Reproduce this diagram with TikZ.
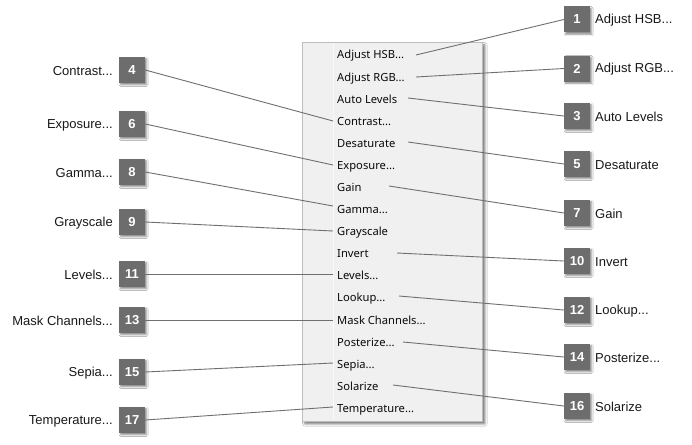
\documentclass[tikz,border=0pt]{standalone}
\usepackage{fontspec}
\setmainfont{Liberation Sans}
\newfontfamily\menufont{Noto Sans}
\usetikzlibrary{shadows.blur}
\definecolor{badgegray}{HTML}{6D6D6D}
\definecolor{menubg}{HTML}{F0F0F0}
\definecolor{menuborder}{HTML}{BDBDBD}
\definecolor{linegray}{HTML}{6F6F6F}
\definecolor{menutext}{HTML}{0A0A0A}
\begin{document}
\begin{tikzpicture}[x=1pt,y=-1pt,
  badge/.style={fill=badgegray, minimum width=26pt, minimum height=26pt, inner sep=0pt,
     text=white, font=\fontsize{13}{13}\selectfont\bfseries,
     blur shadow={shadow xshift=1.6pt, shadow yshift=-1.8pt, shadow blur steps=6, shadow blur radius=1.6pt, shadow opacity=45}},
  item/.style={anchor=base west, inner sep=0pt, text=menutext, font=\menufont\fontsize{11.2}{11.2}\selectfont},
  rlabel/.style={anchor=west, inner sep=0pt, font=\fontsize{13}{13}\selectfont, text=black!90},
  llabel/.style={anchor=east, inner sep=0pt, font=\fontsize{13}{13}\selectfont, text=black!90},
  conn/.style={draw=linegray, line width=0.9pt}]
\useasboundingbox (0,0) rectangle (692,444);
\fill[white] (0,0) rectangle (692,444);
% menu
\node[draw=menuborder, fill=menubg, line width=0.8pt, minimum width=180pt, minimum height=379pt, inner sep=0pt, anchor=north west,
  blur shadow={shadow xshift=2.5pt, shadow yshift=-2.5pt, shadow blur steps=6, shadow blur radius=2.2pt, shadow opacity=55}] (menu) at (302,42) {};
\draw[draw=white!60!menubg, line width=0.8pt] (333,43) -- (333,420);
% menu items
\node[item] (i1) at (337,59) {Adjust HSB...};
\node[item] (i2) at (337,81) {Adjust RGB...};
\node[item] (i3) at (337,103) {Auto Levels};
\node[item] (i4) at (337,125) {Contrast...};
\node[item] (i5) at (337,147) {Desaturate};
\node[item] (i6) at (337,169) {Exposure...};
\node[item] (i7) at (337,191) {Gain};
\node[item] (i8) at (337,213) {Gamma...};
\node[item] (i9) at (337,235) {Grayscale};
\node[item] (i10) at (337,257) {Invert};
\node[item] (i11) at (337,279) {Levels...};
\node[item] (i12) at (337,301) {Lookup...};
\node[item] (i13) at (337,324) {Mask Channels...};
\node[item] (i14) at (337,346) {Posterize...};
\node[item] (i15) at (337,368) {Sepia...};
\node[item] (i16) at (337,390) {Solarize};
\node[item] (i17) at (337,412) {Temperature...};
% right connector start points
\coordinate (c1) at (416,55);
\coordinate (c2) at (416,77);
\coordinate (c3) at (408,98);
\coordinate (c5) at (408,142);
\coordinate (c7) at (389,186);
\coordinate (c10) at (397,253);
\coordinate (c12) at (399,296);
\coordinate (c14) at (403,342);
\coordinate (c16) at (393,385);
% left connector end points
\coordinate (c4) at (333,121);
\coordinate (c6) at (333,165);
\coordinate (c8) at (333,206);
\coordinate (c9) at (333,231);
\coordinate (c11) at (333,274);
\coordinate (c13) at (333,320);
\coordinate (c15) at (333,363);
\coordinate (c17) at (333,407);
% right badges
\node[badge] (b1) at (577,19.5) {1};
\node[badge] (b2) at (577,68.5) {2};
\node[badge] (b3) at (577,116) {3};
\node[badge] (b5) at (577,164) {5};
\node[badge] (b7) at (577,213) {7};
\node[badge] (b10) at (577,261) {10};
\node[badge] (b12) at (577,310) {12};
\node[badge] (b14) at (577,357) {14};
\node[badge] (b16) at (577,406) {16};
% left badges
\node[badge] (b4) at (132,70) {4};
\node[badge] (b6) at (132,124) {6};
\node[badge] (b8) at (132,172) {8};
\node[badge] (b9) at (132,222) {9};
\node[badge] (b11) at (132,274) {11};
\node[badge] (b13) at (132,320) {13};
\node[badge] (b15) at (132,372) {15};
\node[badge] (b17) at (132,420) {17};
% right labels
\node[rlabel] (l1) at (595,20) {Adjust HSB...};
\node[rlabel] (l2) at (595,69) {Adjust RGB...};
\node[rlabel] (l3) at (595,117) {Auto Levels};
\node[rlabel] (l5) at (595,165) {Desaturate};
\node[rlabel] (l7) at (595,214) {Gain};
\node[rlabel] (l10) at (595,262) {Invert};
\node[rlabel] (l12) at (595,311) {Lookup...};
\node[rlabel] (l14) at (595,358) {Posterize...};
\node[rlabel] (l16) at (595,407) {Solarize};
% left labels
\node[llabel] (l4) at (113,71) {Contrast...};
\node[llabel] (l6) at (113,125) {Exposure...};
\node[llabel] (l8) at (113,173) {Gamma...};
\node[llabel] (l9) at (113,223) {Grayscale};
\node[llabel] (l11) at (113,275) {Levels...};
\node[llabel] (l13) at (113,321) {Mask Channels...};
\node[llabel] (l15) at (113,373) {Sepia...};
\node[llabel] (l17) at (113,421) {Temperature...};
% connectors
\foreach \n in {1,2,3,5,7,10,12,14,16} \draw[conn] (c\n) -- (b\n.west);
\foreach \n in {4,6,8,9,11,13,15,17} \draw[conn] (b\n.east) -- (c\n);
\end{tikzpicture}
\end{document}
